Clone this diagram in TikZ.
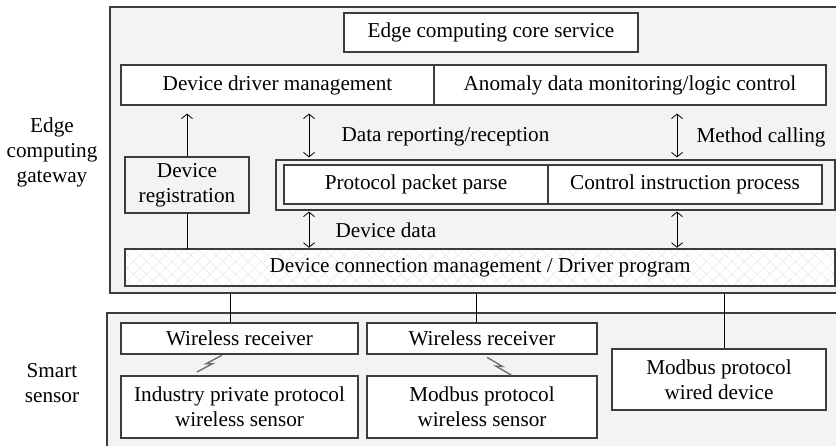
\documentclass[tikz,border=0pt]{standalone}
\usepackage{fontspec}
\setmainfont{Liberation Serif}
\usetikzlibrary{arrows.meta,patterns.meta}
\definecolor{panel}{HTML}{F2F3F2}
\definecolor{rim}{HTML}{3C3C3C}
\definecolor{radio}{HTML}{6A6A6A}
\begin{document}
\begin{tikzpicture}[x=1pt,y=-1pt,
  every node/.style={font=\fontsize{21.2}{25}\selectfont, text=black},
  frame/.style={draw=rim, line width=1.5pt, fill=panel, inner sep=0pt},
  cell/.style={draw=rim, line width=1.2pt, fill=white, inner sep=0pt, align=center},
  greycell/.style={cell, fill=panel},
  hatched/.style={cell, preaction={fill=white},
    pattern={Hatch[angle=45,distance=9pt,line width=0.5pt]}, pattern color=black!9},
  wire/.style={line width=0.8pt, draw=black},
  uparrow/.style={wire, -{Straight Barb[length=4.5pt,width=11pt]}},
  biarrow/.style={wire, {Straight Barb[length=4.5pt,width=11pt]}-{Straight Barb[length=4.5pt,width=11pt]}},
  radiolink/.style={draw=radio, line width=1.3pt, line join=miter},
  side/.style={align=center}
]
\useasboundingbox (0,0) rectangle (836,446);
\clip (0,0) rectangle (836,446);

% ---------- gateway layer ----------
\node[frame, minimum width=740pt, minimum height=286pt] (gw) at (480,150) {};
\node[cell, minimum width=294pt, minimum height=39pt] (core) at (491,32.5) {Edge computing core service};
\node[cell, minimum width=313pt, minimum height=40pt] (ddm) at (277.5,85) {Device driver management};
\node[cell, minimum width=392pt, minimum height=40pt] (adm) at (630,85) {Anomaly data monitoring/logic control};

\node[greycell, minimum width=124pt, minimum height=56pt] (reg) at (187,185) {Device\\registration};
\node[greycell, minimum width=559pt, minimum height=50pt] (pout) at (555.5,185) {};
\node[cell, minimum width=264pt, minimum height=39pt] (ppp) at (416,184.5) {Protocol packet parse};
\node[cell, minimum width=274pt, minimum height=39pt] (cip) at (685,184.5) {Control instruction process};

\node[hatched, minimum width=710pt, minimum height=37pt] (conn) at (480,267.5) {Device connection management / Driver program};

% columns of the vertical links
\coordinate (cA) at (309,0);
\coordinate (cB) at (677,0);

\draw[uparrow, shorten >=8pt] (reg.north) -- (reg.north |- ddm.south);
\draw[biarrow, shorten <=8pt, shorten >=2pt] (cA |- ddm.south) -- (cA |- pout.north);
\draw[biarrow, shorten <=8pt, shorten >=2pt] (cB |- ddm.south) -- (cB |- pout.north);
\draw[biarrow, shorten <=1pt, shorten >=1pt] (cA |- pout.south) -- (cA |- conn.north);
\draw[biarrow, shorten <=1pt, shorten >=1pt] (cB |- pout.south) -- (cB |- conn.north);
\draw[wire] (reg.south) -- (reg.south |- conn.north);

\node[anchor=west] (lblrep) at (338,137) {Data reporting/reception};
\node[anchor=east] (lblcall) at (829,137) {Method calling};
\node[anchor=west] (lbldev) at (332,230) {Device data};

% ---------- sensor layer ----------
\node[frame, minimum width=743pt, minimum height=147pt] (ss) at (478.5,386.5) {};
\node[cell, minimum width=237pt, minimum height=31pt] (wr1) at (239.5,338.5) {Wireless receiver};
\node[cell, minimum width=230pt, minimum height=31pt] (wr2) at (482,338.5) {Wireless receiver};
\node[cell, minimum width=237pt, minimum height=62pt] (is1) at (239.5,407) {Industry private protocol\\wireless sensor};
\node[cell, minimum width=230pt, minimum height=62pt] (is2) at (482,407) {Modbus protocol\\wireless sensor};
\node[cell, minimum width=214pt, minimum height=61pt] (mwd) at (719,379.5) {Modbus protocol\\wired device};

% links from the gateway down to the sensors
\coordinate (dA) at (230,0);
\coordinate (dB) at (476,0);
\coordinate (dC) at (724,0);
\draw[wire] (dA |- gw.south) -- (dA |- wr1.north);
\draw[wire] (dB |- gw.south) -- (dB |- wr2.north);
\draw[wire] (dC |- gw.south) -- (dC |- mwd.north);

% radio links between receivers and sensors
\draw[radiolink] (196.8,372.1) -- (212.6,363.6) -- (206.0,363.8) -- (221.8,355.3);
\draw[radiolink] (487.1,357.4) -- (502.6,366.5) -- (495.9,366.1) -- (511.4,375.2);

% ---------- layer captions ----------
\node[side] (capgw) at (52,152) {Edge\\computing\\gateway};
\node[side] (capss) at (52,383.5) {Smart\\sensor};
\end{tikzpicture}
\end{document}
